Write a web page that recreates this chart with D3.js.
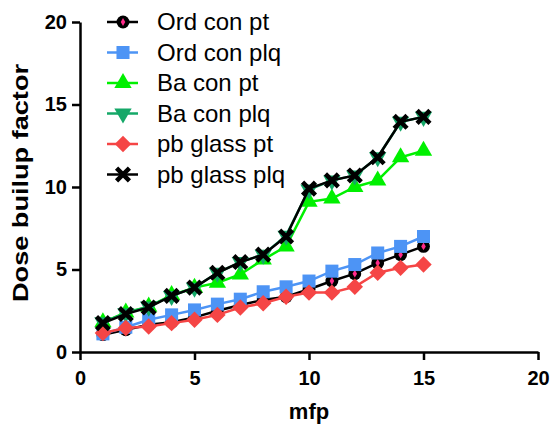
<!DOCTYPE html>
<html>
  <head>
    <meta charset="utf-8">
    <title>Dose builup factor</title>
    <script src="https://cdn.jsdelivr.net/npm/d3@7"></script>
    <style>
      body { margin: 0; background: #fff; }
      svg text { font-family: Arial, "Liberation Sans", sans-serif; }
      .axis path, .axis line { stroke: #000; stroke-width: 2.5; }
      .axis text { font-size: 20px; font-weight: bold; fill: #000; }
      .legend text { font-size: 24px; fill: #000; }
    </style>
  </head>
  <body>
    <svg id="chart" width="551" height="428"></svg>
    <script>
    // values, x = mfp 1..15
    var mfp = [1, 2, 3, 4, 5, 6, 7, 8, 9, 10, 11, 12, 13, 14, 15];
    var ordConPt  = [1.05, 1.35, 1.65, 1.8, 2.1, 2.5, 2.85, 3.15, 3.35, 3.8, 4.3, 4.75, 5.4, 5.9, 6.4];
    var ordConPlq = [1.1, 1.5, 1.95, 2.25, 2.55, 2.9, 3.2, 3.65, 3.95, 4.3, 4.9, 5.3, 6.0, 6.4, 7.0];
    var baConPt   = [1.8, 2.4, 2.75, 3.45, 3.9, 4.2, 4.7, 5.6, 6.4, 9.1, 9.3, 10.0, 10.4, 11.8, 12.2];
    var baConPlq  = [1.8, 2.35, 2.75, 3.4, 3.9, 4.8, 5.45, 5.9, 7.05, 9.85, 10.4, 10.7, 11.8, 13.95, 14.25];
    var pbGlassPt = [1.15, 1.45, 1.55, 1.75, 1.95, 2.25, 2.7, 2.95, 3.35, 3.6, 3.6, 3.95, 4.8, 5.1, 5.3];
    var pbGlassPlq = [1.75, 2.3, 2.7, 3.4, 3.9, 4.8, 5.45, 5.9, 7.0, 9.9, 10.4, 10.7, 11.8, 13.95, 14.25];
    var xTicks = [0, 5, 10, 15, 20];
    var yTicks = [0, 5, 10, 15, 20];

    var series = [
      {name: "Ord con pt",   values: ordConPt,   color: "#000000", shape: "circle"},
      {name: "Ord con plq",  values: ordConPlq,  color: "#4d94f5", shape: "square"},
      {name: "Ba con pt",    values: baConPt,    color: "#00f000", shape: "triUp"},
      {name: "Ba con plq",   values: baConPlq,   color: "#15a868", shape: "triDown"},
      {name: "pb glass pt",  values: pbGlassPt,  color: "#f54545", shape: "diamond"},
      {name: "pb glass plq", values: pbGlassPlq, color: "#000000", shape: "times"}
    ];

    var svg = d3.select("#chart");

    var x = d3.scaleLinear().domain([0, 20]).range([80, 538]);
    var y = d3.scaleLinear().domain([0, 20]).range([352, 22]);

    svg.append("g")
      .attr("class", "axis")
      .attr("transform", "translate(0,352)")
      .call(d3.axisBottom(x).tickValues(xTicks).tickSize(8).tickPadding(10).tickSizeOuter(0))
      .selectAll("text").attr("dy", "0.75em");

    svg.append("g")
      .attr("class", "axis")
      .attr("transform", "translate(80,0)")
      .call(d3.axisLeft(y).tickValues(yTicks).tickSize(8).tickPadding(5).tickSizeOuter(0));

    svg.append("text")
      .attr("x", 309)
      .attr("y", 419)
      .attr("text-anchor", "middle")
      .style("font-size", "22px")
      .style("font-weight", "bold")
      .text("mfp");

    svg.append("text")
      .attr("transform", "translate(28,183) rotate(-90)")
      .attr("text-anchor", "middle")
      .style("font-size", "22px")
      .style("font-weight", "bold")
      .attr("textLength", 238)
      .attr("lengthAdjust", "spacingAndGlyphs")
      .text("Dose builup factor");

    function shapeFor(s) {
      if (s == "circle") return d3.symbol(d3.symbolCircle, 130);
      if (s == "square") return d3.symbol(d3.symbolSquare, 170);
      if (s == "triUp") return d3.symbol(d3.symbolTriangle, 130);
      if (s == "triDown") return d3.symbol(d3.symbolTriangle, 130);
      if (s == "diamond") return d3.symbol(d3.symbolSquare, 135);
      return d3.symbol(d3.symbolTimes, 110);
    }

    function drawMarker(g, s) {
      var path = g.append("path").attr("d", shapeFor(s.shape)());
      if (s.shape == "triDown") path.attr("transform", "rotate(180)");
      if (s.shape == "diamond") path.attr("transform", "rotate(45)");
      if (s.shape == "times") {
        path.attr("fill", "none").attr("stroke", s.color).attr("stroke-width", 4.5);
      } else {
        path.attr("fill", s.color);
      }
      if (s.shape == "circle") {
        g.append("path").attr("d", d3.symbol(d3.symbolDiamond, 18)()).attr("fill", "#ff2a8a");
      }
    }

    var line = d3.line()
      .x(function(d, i) { return x(mfp[i]); })
      .y(function(d) { return y(d); });

    series.forEach(function(s) {
      var g = svg.append("g");
      g.append("path")
        .datum(s.values)
        .attr("fill", "none")
        .attr("stroke", s.color)
        .attr("stroke-width", 2.5)
        .attr("d", line);
      g.selectAll("g.pt")
        .data(s.values)
        .enter().append("g")
        .attr("class", "pt")
        .attr("transform", function(d, i) { return "translate(" + x(mfp[i]) + "," + y(d) + ")"; })
        .each(function() { drawMarker(d3.select(this), s); });
    });

    // legend
    var legend = svg.append("g").attr("class", "legend");
    series.forEach(function(s, i) {
      var row = legend.append("g")
        .attr("transform", "translate(0," + (22 + i * 30.5) + ")");
      row.append("line")
        .attr("x1", 107).attr("x2", 138)
        .attr("stroke", s.color).attr("stroke-width", 2.5);
      var m = row.append("g").attr("transform", "translate(123,0)");
      drawMarker(m, s);
      row.append("text")
        .attr("x", 157)
        .attr("y", 8)
        .text(s.name);
    });
    </script>
  </body>
</html>
